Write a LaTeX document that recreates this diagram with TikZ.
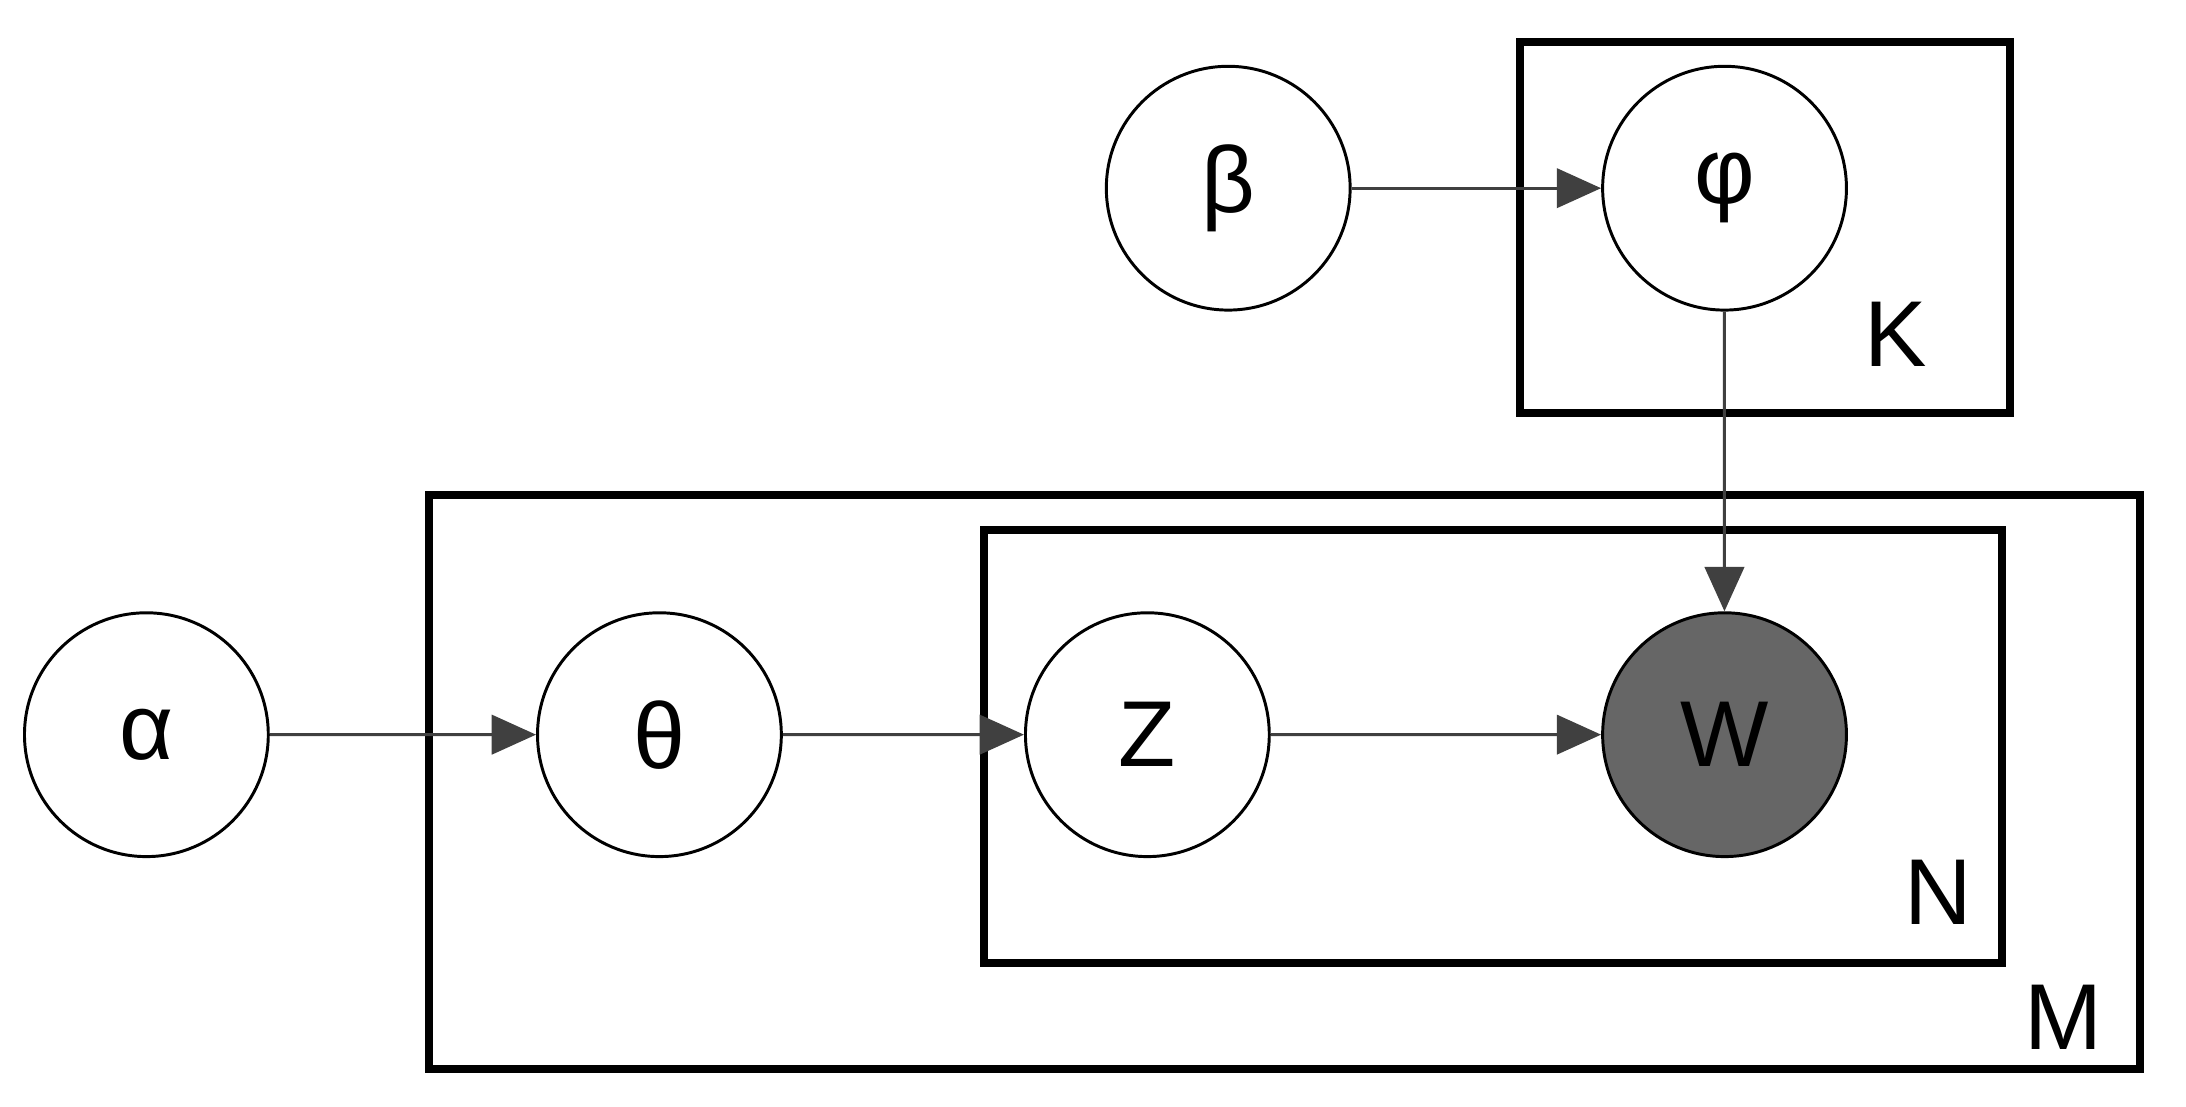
\documentclass[tikz,border=0pt]{standalone}
\usepackage{fontspec}
\setmainfont{Liberation Sans}
\usetikzlibrary{positioning}
\usetikzlibrary{arrows.meta}

\tikzset{
  var/.style={circle,draw=black,line width=0.6pt,minimum size=1.74cm,inner sep=0pt,font=\fontsize{19}{22}\selectfont},
  obs/.style={var,fill=black!60},
  plate/.style={draw=black,line width=1.6pt},
  edge/.style={-{Triangle[length=9pt,width=8pt]},draw=black!75,line width=0.6pt},
  lbl/.style={font=\fontsize{19}{22}\selectfont}
}

\begin{document}
\begin{tikzpicture}[scale=0.995]
  \useasboundingbox (0,0) rectangle (15.68,-7.94);

  % plates
  \draw[plate] (10.9,-0.3) rectangle (14.42,-2.96);
  \draw[plate] (3.08,-3.55) rectangle (15.35,-7.67);
  \draw[plate] (7.06,-3.8) rectangle (14.36,-6.91);
  \node[lbl] (labK) at (13.6,-2.4) {K};
  \node[lbl] (labN) at (13.9,-6.4) {N};
  \node[lbl] (labM) at (14.8,-7.3) {M};

  % variables
  \node[var] (alpha) at (1.05,-5.27) {α};
  \node[var] (theta) at (4.73,-5.27) {θ};
  \node[var] (z) at (8.23,-5.27) {Z};
  \node[obs] (w) at (12.37,-5.27) {W};
  \node[var] (beta) at (8.81,-1.35) {β};
  \node[var] (phi) at (12.37,-1.35) {φ};

  % edges
  \draw[edge] (alpha) -- (theta);
  \draw[edge] (theta) -- (z);
  \draw[edge] (z) -- (w);
  \draw[edge] (beta) -- (phi);
  \draw[edge] (phi) -- (w);
\end{tikzpicture}
\end{document}
